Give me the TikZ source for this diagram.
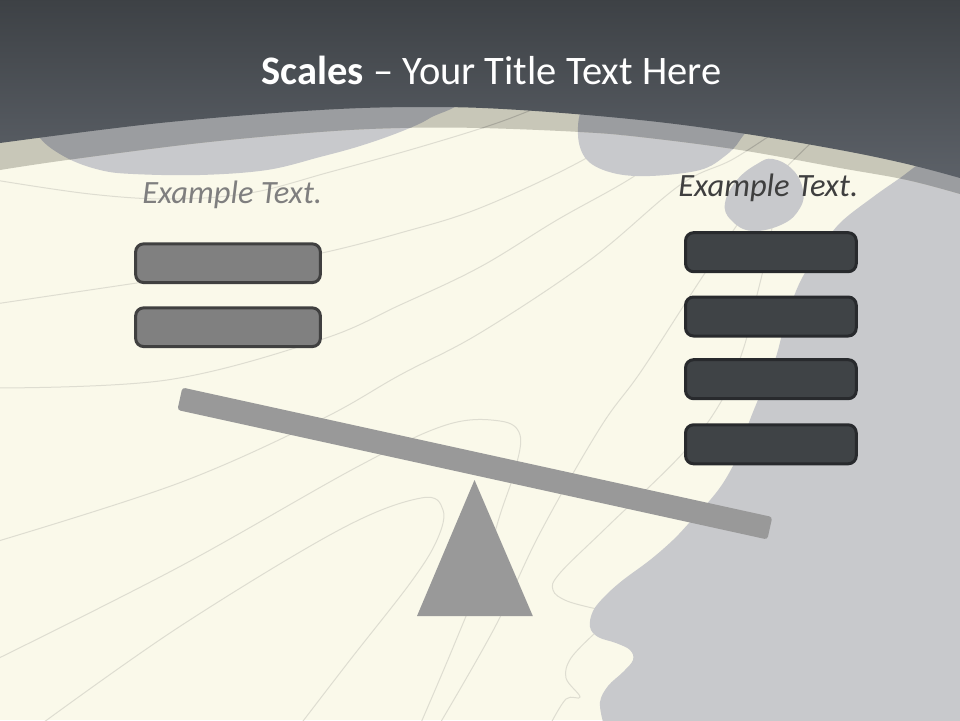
\documentclass[tikz,border=0pt]{standalone}
\usepackage{fontspec}
\setmainfont{Carlito}
\definecolor{cream}{HTML}{FAF9EA}
\definecolor{khaki}{HTML}{C8C7B8}
\definecolor{shapegrey}{HTML}{C8C9CC}
\definecolor{midgrey}{HTML}{9B9DA0}
\definecolor{hdtop}{HTML}{3D4145}
\definecolor{hdbot}{HTML}{5C6168}
\definecolor{contour}{HTML}{DEDDD1}
\definecolor{contourdark}{HTML}{A8A79C}
\definecolor{lightbox}{HTML}{808080}
\definecolor{lightboxline}{HTML}{404040}
\definecolor{darkbox}{HTML}{3F4346}
\definecolor{darkboxline}{HTML}{282A2D}
\definecolor{scalegrey}{HTML}{999999}
\definecolor{lefttext}{HTML}{7F7F7F}
\definecolor{righttext}{HTML}{3F3F3F}
% region paths (pixel coordinates, y downwards)
\newcommand{\pHeader}{(-2,-2) -- (-2,143) -- plot[smooth, tension=0.6] coordinates {(0,143) (160,123) (320,110) (430,107) (520,110) (640,120) (740,133) (840,150) (907,164) (960,178)} -- (962,178) -- (962,-2) -- cycle}
\newcommand{\pBand}{(-2,-2) -- (-2,170) -- plot[smooth, tension=0.6] coordinates {(0,170) (67,160) (200,143) (320,132) (400,128) (480,128) (580,132) (640,137) (740,150) (840,168) (907,180) (960,194)} -- (962,194) -- (962,-2) -- cycle}
\newcommand{\pBlobA}{plot[smooth cycle, tension=0.6] coordinates {(30,110) (40,138) (67,158) (100,170) (133,174) (200,175) (267,170) (320,157) (360,146) (400,132) (430,118) (450,100) (300,88) (100,95)}}
\newcommand{\pBlobB}{plot[smooth cycle, tension=0.6] coordinates {(585,105) (578,135) (587,160) (613,173) (650,176) (700,170) (725,156) (740,140) (748,118) (700,98) (620,98)}}
\newcommand{\pBlobC}{plot[smooth cycle, tension=0.7] coordinates {(773,159) (793,170) (803,190) (800,208) (783,224) (752,231) (731,220) (725,203) (737,180) (757,164)}}
\newcommand{\pFace}{plot[smooth, tension=0.6] coordinates {(962,140) (925,160) (900,178) (873,197) (840,223) (820,250) (800,282) (786,320) (775,360) (760,395) (748,425) (738,455) (725,480) (711,499) (690,522) (673,540) (650,560) (623,580) (605,596) (593,611) (590,627) (598,637) (616,643) (630,650) (633,660) (623,672) (608,686) (600,702) (603,722)} -- (962,722) -- cycle}
% contour lines
\newcommand{\lnA}{plot[smooth, tension=0.6] coordinates {(-5,180) (90,194) (170,199) (250,193) (330,172) (420,147) (500,122) (560,98)}}
\newcommand{\lnB}{plot[smooth, tension=0.6] coordinates {(-5,304) (130,284) (250,266) (322,253) (400,233) (480,208) (583,160) (650,115)}}
\newcommand{\lnC}{plot[smooth, tension=0.6] coordinates {(-5,388) (167,380) (320,340) (400,305) (480,267) (557,220) (633,177) (690,135)}}
\newcommand{\lnD}{plot[smooth, tension=0.6] coordinates {(-5,542) (179,483) (320,420) (400,375) (480,333) (590,260) (680,185) (735,158) (800,115)}}
\newcommand{\lnE}{plot[smooth, tension=0.6] coordinates {(-5,660) (179,567) (357,467) (446,425) (500,421) (520,435) (515,470) (500,515) (482,575) (452,650) (420,725)}}
\newcommand{\lnF}{plot[smooth, tension=0.6] coordinates {(40,725) (179,627) (339,530) (421,498) (443,510) (437,540) (411,582) (350,660) (300,725)}}
\newcommand{\lnG}{plot[smooth, tension=0.6] coordinates {(439,725) (495,627) (540,533) (600,428) (642,370) (707,270) (760,195) (830,125)}}
\newcommand{\lnH}{plot[smooth, tension=0.6] coordinates {(772,228) (765,262) (757,295) (743,350) (722,400) (683,453) (607,527) (560,573) (553,590) (567,601) (597,609)}}
\newcommand{\lnJ}{plot[smooth, tension=0.6] coordinates {(594,634) (571,658) (566,678) (580,697) (566,699) (550,725)}}
\tikzset{
  contourline/.style={draw=contour, line width=1pt},
  contourband/.style={draw=contourdark, line width=1pt},
  lbox/.style={draw=lightboxline, fill=lightbox, line width=3pt, rounded corners=8pt,
    minimum width=184.7pt, minimum height=38.7pt, inner sep=0pt, outer sep=0pt},
  rbox/.style={draw=darkboxline, fill=darkbox, line width=3pt, rounded corners=8pt,
    minimum width=170.7pt, minimum height=39pt, inner sep=0pt, outer sep=0pt},
  beamstyle/.style={fill=scalegrey, rounded corners=3pt, minimum width=604pt,
    minimum height=23pt, inner sep=0pt, outer sep=0pt},
  titletext/.style={text=white, font=\fontsize{40.5}{48}\selectfont, inner sep=0pt},
  exampletext/.style={font=\fontsize{32.5}{38}\selectfont\itshape, inner sep=0pt}
}
\begin{document}
\begin{tikzpicture}[x=1pt, y=-1pt]
\useasboundingbox (0,0) rectangle (960,720);
\begin{scope}
\clip (0,0) rectangle (960,720);
% background
\fill[cream] (0,0) rectangle (960,720);
% contour lines
\foreach \ln in {\lnA,\lnB,\lnC,\lnD,\lnE,\lnF,\lnG,\lnH,\lnJ} {\draw[contourline] \ln;}
% grey shapes
\fill[shapegrey] \pBlobA;
\fill[shapegrey] \pBlobB;
\fill[shapegrey] \pBlobC;
\fill[shapegrey] \pFace;
% khaki band with darker overlaps
\fill[khaki] \pBand;
\begin{scope}
  \clip \pBand;
  \foreach \ln in {\lnA,\lnB,\lnC,\lnD,\lnG} {\draw[contourband] \ln;}
  \fill[midgrey] \pBlobA;
  \fill[midgrey] \pBlobB;
  \fill[midgrey] \pBlobC;
  \fill[midgrey] \pFace;
\end{scope}
% header
\shade[top color=hdtop, bottom color=hdbot] \pHeader;
\end{scope}
% title
\node[titletext, anchor=base] (title) at (491.5,84) {\textbf{Scales} -- Your Title Text Here};
% left column
\node[exampletext, text=lefttext, anchor=base] (ltext) at (232.2,203.3) {Example Text.};
\node[lbox] (l1) at (228,263.2) {};
\node[lbox] (l2) at (228,327.2) {};
% right column
\node[exampletext, text=righttext, anchor=base] (rtext) at (768.3,196) {Example Text.};
\node[rbox] (r1) at (770.9,252.2) {};
\node[rbox] (r2) at (770.9,316.5) {};
\node[rbox] (r3) at (770.9,379.2) {};
\node[rbox] (r4) at (770.9,444.3) {};
% scale
\node[beamstyle, rotate=-12.38] (beam) at (474.85,463.5) {};
\coordinate (apex) at (474.5,480);
\coordinate (baseL) at (417,616);
\coordinate (baseR) at (532.8,616);
\fill[scalegrey] (apex) -- (baseL) -- (baseR) -- cycle;
\end{tikzpicture}
\end{document}
